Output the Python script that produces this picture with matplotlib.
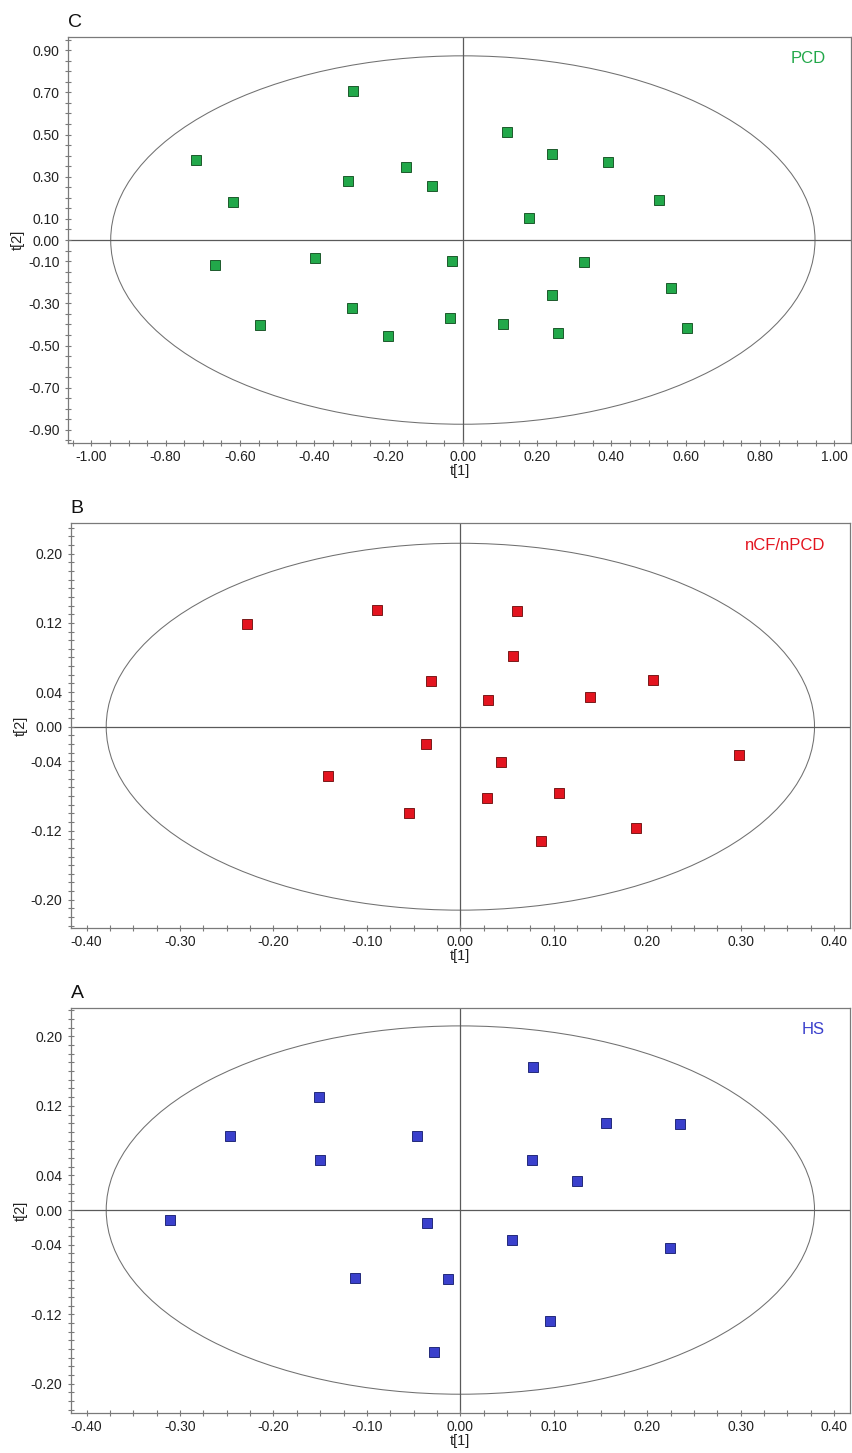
"""Three stacked PCA score plots (t[1] vs t[2]) with Hotelling ellipse: PCD, nCF/nPCD, HS."""

import matplotlib

matplotlib.use("Agg")
import matplotlib.pyplot as plt
from matplotlib.patches import Ellipse
from matplotlib.ticker import FixedLocator, MultipleLocator

plt.rcParams["font.family"] = ["Liberation Sans", "DejaVu Sans"]
plt.rcParams["axes.unicode_minus"] = False

# --- panel C: PCD ---
PCD_T1 = [-0.719, -0.295, -0.618, -0.154, -0.309, -0.082, -0.667, -0.398, -0.299, -0.546,
          -0.201, 0.118, 0.240, 0.390, 0.528, 0.179, -0.030, 0.327, 0.561, 0.239,
          -0.034, 0.109, 0.257, 0.603]
PCD_T2 = [0.378, 0.705, 0.179, 0.347, 0.278, 0.256, -0.118, -0.084, -0.321, -0.404,
          -0.457, 0.513, 0.409, 0.371, 0.188, 0.103, -0.098, -0.106, -0.226, -0.262,
          -0.368, -0.400, -0.439, -0.419]
PCD_ELLIPSE = (0.948, 0.873)  # semi-axes t[1], t[2]
PCD_XTICKS = [-1.0, -0.8, -0.6, -0.4, -0.2, 0.0, 0.2, 0.4, 0.6, 0.8, 1.0]
PCD_YTICKS = [-0.9, -0.7, -0.5, -0.3, -0.1, 0.0, 0.1, 0.3, 0.5, 0.7, 0.9]

# --- panel B: nCF/nPCD ---
NCF_T1 = [-0.2285, -0.0894, -0.1415, -0.0548, -0.0312, -0.0369, 0.0605, 0.0562, 0.0294,
          0.1386, 0.206, 0.2984, 0.043, 0.029, 0.1058, 0.1878, 0.0858]
NCF_T2 = [0.1188, 0.135, -0.0565, -0.0995, 0.053, -0.0196, 0.1334, 0.0819, 0.0308,
          0.0339, 0.0539, -0.0323, -0.0407, -0.0819, -0.0761, -0.1165, -0.1318]

# --- panel A: HS ---
HS_T1 = [-0.2463, -0.151, -0.1507, -0.0465, -0.3105, -0.1126, -0.0355, -0.0131, -0.0287,
         0.0779, 0.156, 0.2352, 0.0765, 0.1243, 0.0548, 0.2242, 0.0961]
HS_T2 = [0.0849, 0.1305, 0.0572, 0.0853, -0.0111, -0.078, -0.0153, -0.0795, -0.1632,
         0.1644, 0.1002, 0.0987, 0.0572, 0.033, -0.035, -0.0434, -0.1275]

SMALL_ELLIPSE = (0.379, 0.212)
SMALL_XTICKS = [-0.4, -0.3, -0.2, -0.1, 0.0, 0.1, 0.2, 0.3, 0.4]
SMALL_YTICKS = [-0.2, -0.12, -0.04, 0.0, 0.04, 0.12, 0.2]

SPINE = "#7a7a7a"
CROSS = "#5a5a5a"


def draw_panel(ax, t1, t2, ellipse, xticks, yticks, xlim, ylim, xminor, yminor,
               face, edge, group, letter):
    ax.add_patch(Ellipse((0, 0), 2 * ellipse[0], 2 * ellipse[1], fill=False,
                         edgecolor="#707070", lw=0.75, zorder=1))
    ax.axhline(0, color=CROSS, lw=0.9, zorder=1)
    ax.axvline(0, color=CROSS, lw=0.9, zorder=1)
    ax.plot(t1, t2, ls="none", marker="s", ms=7.9, mfc=face, mec=edge, mew=0.7, zorder=3)

    ax.set_xlim(*xlim)
    ax.set_ylim(*ylim)
    ax.xaxis.set_major_locator(FixedLocator(xticks))
    ax.yaxis.set_major_locator(FixedLocator(yticks))
    ax.xaxis.set_minor_locator(MultipleLocator(xminor))
    ax.yaxis.set_minor_locator(MultipleLocator(yminor))
    ax.set_xticklabels([f"{v:.2f}" for v in xticks])
    ax.set_yticklabels([f"{v:.2f}" for v in yticks])
    ax.tick_params(which="both", direction="inout", length=4, width=0.8, color=SPINE,
                   labelsize=10, labelcolor="#222222")
    ax.tick_params(axis="x", pad=3)
    ax.tick_params(axis="y", pad=4)
    for s in ax.spines.values():
        s.set_color(SPINE)
        s.set_linewidth(0.9)

    ax.set_xlabel("t[1]", fontsize=10.5, color="#222222", labelpad=0)
    ax.set_ylabel("t[2]", fontsize=10.5, color="#222222", labelpad=2)
    ax.text(0.968, 0.946, group, transform=ax.transAxes, ha="right", va="center",
            fontsize=12, color=face)
    ax.text(0.0, 1.015, letter, transform=ax.transAxes, ha="left", va="bottom",
            fontsize=14, color="#111111")


fig = plt.figure(figsize=(8.53, 14.53), dpi=100)
ax_c = fig.add_axes([0.0797, 0.6951, 0.918, 0.2794])
ax_b = fig.add_axes([0.0829, 0.3611, 0.9136, 0.2787])
ax_a = fig.add_axes([0.0829, 0.0273, 0.9136, 0.2792])

draw_panel(ax_c, PCD_T1, PCD_T2, PCD_ELLIPSE, PCD_XTICKS, PCD_YTICKS,
           (-1.063, 1.045), (-0.962, 0.962), 0.05, 0.05,
           "#22a84a", "#1d5a2c", "PCD", "C")
draw_panel(ax_b, NCF_T1, NCF_T2, SMALL_ELLIPSE, SMALL_XTICKS, SMALL_YTICKS,
           (-0.417, 0.417), (-0.233, 0.235), 0.025, 0.01,
           "#e3141f", "#7a1a1a", "nCF/nPCD", "B")
draw_panel(ax_a, HS_T1, HS_T2, SMALL_ELLIPSE, SMALL_XTICKS, SMALL_YTICKS,
           (-0.417, 0.417), (-0.234, 0.233), 0.025, 0.01,
           "#3a40cc", "#232a7a", "HS", "A")

fig.savefig("out.png", dpi=100)
